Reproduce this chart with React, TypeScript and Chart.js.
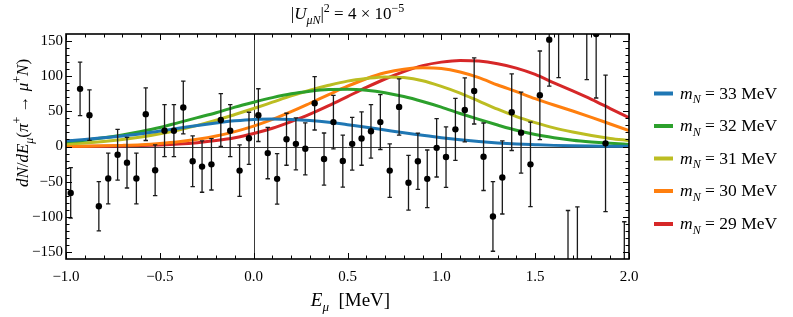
import React, { useEffect, useRef } from "react";
import { Chart, registerables } from "chart.js";

Chart.register(...registerables);

// ---------- data ----------
const binCenters = [
  -0.975, -0.925, -0.875, -0.825, -0.775, -0.725, -0.675, -0.625, -0.575, -0.525,
  -0.475, -0.425, -0.375, -0.325, -0.275, -0.225, -0.175, -0.125, -0.075, -0.025,
  0.025, 0.075, 0.125, 0.175, 0.225, 0.275, 0.325, 0.375, 0.425, 0.475,
  0.525, 0.575, 0.625, 0.675, 0.725, 0.775, 0.825, 0.875, 0.925, 0.975,
  1.025, 1.075, 1.125, 1.175, 1.225, 1.275, 1.325, 1.375, 1.425, 1.475,
  1.525, 1.575, 1.625, 1.675, 1.725, 1.775, 1.825, 1.875, 1.925, 1.975,
];
const counts: (number | null)[] = [
  -66, 82, 44.6, -85, -45.5, -11.7, -23, -45.5, 46, -33.8,
  22.5, 22.5, 55.4, -21, -28.6, -25.4, 37.6, 22.5, -34.3, 11.7,
  44.6, -9.4, -46, 10.3, 3.8, -3.3, 61.5, -17.8, 34.7, -20.7,
  3.8, 11.3, 21.6, 34.7, -34.3, 56.3, -51.6, -21, -46, -1.9,
  -15, 24.4, 52, 79, -14.6, -99.5, -44, 48.8, 19.7, -25.4,
  72.8, 152, 166, -168, -167, 170, 160, 4.5, null, -215,
];
const errors: (number | null)[] = [
  36, 38, 36, 35, 36, 36, 36, 36, 37.5, 36,
  37, 37, 37.5, 36, 36.5, 36.5, 37.5, 37, 36.5, 37,
  37.5, 36.5, 36, 37, 37, 37, 38, 37, 38, 37,
  37.5, 38, 38, 39, 38, 40, 39, 40, 41, 41.5,
  43, 44, 45.5, 47, 48, 49.5, 52, 54.5, 57.5, 60,
  63, 66, 68, 77, 81, 75, 91, 97, null, 108,
];

const curveX = [
  -1.0, -0.9, -0.8, -0.7, -0.6, -0.5, -0.4, -0.3, -0.2, -0.1, 0.0,
  0.1, 0.2, 0.3, 0.4, 0.5, 0.6, 0.7, 0.8, 0.9, 1.0,
  1.1, 1.2, 1.3, 1.4, 1.5, 1.6, 1.7, 1.8, 1.9, 2.0,
];
const m33 = [8, 10, 12.5, 15, 18, 22, 26, 30, 33.5, 36.5, 38.5, 39, 38.5, 37, 34.5, 31, 27.5, 23.5, 19.5, 16, 12.5, 9.5, 7, 5, 3.5, 2.5, 1.6, 1, 0.6, 0.4, 0.2];
const m32 = [6.5, 9, 12.4, 16.5, 21.4, 27, 34, 41, 48, 56, 63, 69.5, 75, 78.6, 81, 81.5, 80, 76.5, 71, 64, 56, 47, 38.5, 30.5, 23, 17, 12.5, 9, 6.5, 4.5, 3];
const m31 = [3.4, 5, 7.1, 9.9, 13.5, 18, 23.5, 30, 37.3, 45.5, 54, 63, 72, 80, 87, 93, 96.7, 99, 98, 93.5, 85.5, 76, 64.5, 53, 42.5, 34, 26.5, 20.5, 15.5, 11.5, 8.5];
const m30 = [0.3, 0.5, 0.9, 1.6, 2.6, 4.3, 6.7, 10.2, 14.9, 21.2, 29, 38.5, 49.5, 61.5, 73.8, 85.8, 96.4, 104.8, 110, 112, 111, 106, 98, 87.5, 78, 68, 59, 50.5, 41.5, 32, 22.5];
const m29 = [0.1, 0.2, 0.4, 0.8, 1.3, 2.2, 3.5, 5.5, 8.4, 12.4, 18.5, 26, 35.5, 46, 58, 71, 84, 96, 106.5, 115, 120, 122.4, 121.5, 117.6, 111.5, 102.5, 90.5, 79, 67, 54, 41];

const seriesLabels = ["33", "32", "31", "30", "29"];
const seriesValues = [m33, m32, m31, m30, m29];
const seriesColors = ["#1f77b4", "#2ca02c", "#bcbd22", "#ff7f0e", "#d62728"];

const xTicks = [-1.0, -0.5, 0.0, 0.5, 1.0, 1.5, 2.0];
const yTicks = [-150, -100, -50, 0, 50, 100, 150];
const X_MIN = -1, X_MAX = 2, Y_MIN = -160, Y_MAX = 160;

// ---------- text helpers ----------
const FAM = '"Liberation Serif", "Times New Roman", serif';
type Seg = { t: string; i?: boolean; s?: "sub" | "sup" };

function segFont(sg: Seg, size: number) {
  const sz = sg.s ? Math.round(size * 0.7) : size;
  return `${sg.i ? "italic " : ""}${sz}px ${FAM}`;
}
function richWidth(ctx: CanvasRenderingContext2D, segs: Seg[], size: number) {
  let w = 0;
  for (const sg of segs) {
    ctx.font = segFont(sg, size);
    w += ctx.measureText(sg.t).width;
  }
  return w;
}
function drawRich(ctx: CanvasRenderingContext2D, segs: Seg[], x: number, y: number, size: number, align: "left" | "center") {
  const total = richWidth(ctx, segs, size);
  let cx = align === "center" ? x - total / 2 : x;
  ctx.textAlign = "left";
  ctx.textBaseline = "alphabetic";
  ctx.fillStyle = "#000";
  for (const sg of segs) {
    ctx.font = segFont(sg, size);
    const dy = sg.s === "sub" ? size * 0.28 : sg.s === "sup" ? -size * 0.42 : 0;
    ctx.fillText(sg.t, cx, y + dy);
    cx += ctx.measureText(sg.t).width;
  }
}

const fmtMinus = (s: string) => s.replace("-", "\u2212");

// ---------- plugins ----------
const decorPlugin = {
  id: "decor",
  beforeDatasetsDraw(chart: any) {
    const { ctx, chartArea: a, scales } = chart;
    const x0 = scales.x.getPixelForValue(0);
    const y0 = scales.y.getPixelForValue(0);
    ctx.save();
    ctx.strokeStyle = "#3a3a3a";
    ctx.lineWidth = 1;
    ctx.beginPath();
    ctx.moveTo(Math.round(x0) + 0.5, a.top);
    ctx.lineTo(Math.round(x0) + 0.5, a.bottom);
    ctx.moveTo(a.left, Math.round(y0) + 0.5);
    ctx.lineTo(a.right, Math.round(y0) + 0.5);
    ctx.stroke();
    ctx.restore();
  },
  beforeDatasetDraw(chart: any, args: any) {
    if (args.index !== 0) return;
    const { ctx, chartArea: a, scales } = chart;
    ctx.save();
    ctx.beginPath();
    ctx.rect(a.left, a.top, a.right - a.left, a.bottom - a.top);
    ctx.clip();
    ctx.strokeStyle = "#1a1a1a";
    ctx.lineWidth = 1.3;
    binCenters.forEach((xc, i) => {
      const v = counts[i];
      const e = errors[i];
      if (v === null || e === null) return;
      const px = scales.x.getPixelForValue(xc);
      const yt = scales.y.getPixelForValue(v + e);
      const yb = scales.y.getPixelForValue(v - e);
      ctx.beginPath();
      ctx.moveTo(px, yt);
      ctx.lineTo(px, yb);
      ctx.moveTo(px - 2.2, yt);
      ctx.lineTo(px + 2.2, yt);
      ctx.moveTo(px - 2.2, yb);
      ctx.lineTo(px + 2.2, yb);
      ctx.stroke();
    });
    ctx.restore();
  },
  afterDraw(chart: any) {
    const { ctx, chartArea: a, scales } = chart;
    ctx.save();
    // frame ticks
    ctx.strokeStyle = "#000";
    ctx.lineWidth = 1;
    ctx.beginPath();
    for (let k = 0; k <= 30; k++) {
      const v = X_MIN + k * 0.1;
      const px = Math.round(scales.x.getPixelForValue(v)) + 0.5;
      const len = k % 5 === 0 ? 6 : 3.5;
      ctx.moveTo(px, a.bottom);
      ctx.lineTo(px, a.bottom - len);
      ctx.moveTo(px, a.top);
      ctx.lineTo(px, a.top + len);
    }
    for (let k = -15; k <= 15; k++) {
      const v = k * 10;
      const py = Math.round(scales.y.getPixelForValue(v)) + 0.5;
      const len = k % 5 === 0 ? 6 : 3.5;
      ctx.moveTo(a.left, py);
      ctx.lineTo(a.left + len, py);
      ctx.moveTo(a.right, py);
      ctx.lineTo(a.right - len, py);
    }
    ctx.stroke();
    // frame
    ctx.lineWidth = 1.6;
    ctx.strokeRect(a.left, a.top, a.right - a.left, a.bottom - a.top);

    // title
    const cx = (a.left + a.right) / 2;
    drawRich(ctx, [
      { t: "|" }, { t: "U", i: true }, { t: "\u03bcN", i: true, s: "sub" }, { t: "|" },
      { t: "2", s: "sup" }, { t: " = 4 \u00d7 10" }, { t: "\u22125", s: "sup" },
    ], cx, 19, 17, "center");

    // x-axis title
    drawRich(ctx, [
      { t: "E", i: true }, { t: "\u03bc", i: true, s: "sub" }, { t: "  [MeV]" },
    ], cx + 3, 306, 19, "center");

    // y-axis title
    ctx.save();
    ctx.translate(28, 123);
    ctx.rotate(-Math.PI / 2);
    drawRich(ctx, [
      { t: "dN", i: true }, { t: "/" }, { t: "dE", i: true }, { t: "\u03bc", i: true, s: "sub" },
      { t: "(" }, { t: "\u03c0", i: true }, { t: "+", s: "sup" }, { t: " \u2192 " },
      { t: "\u03bc", i: true }, { t: "+", s: "sup" }, { t: "N", i: true }, { t: ")" },
    ], 0, 0, 17, "center");
    ctx.restore();

    // legend
    const rowY = [93.5, 126, 158.5, 191, 224];
    seriesLabels.forEach((lab, i) => {
      const y = rowY[i];
      ctx.fillStyle = seriesColors[i];
      ctx.fillRect(654, y - 2, 19, 4);
      drawRich(ctx, [
        { t: "m", i: true }, { t: "N", i: true, s: "sub" }, { t: ` = ${lab} MeV` },
      ], 680, y + 5, 17.5, "left");
    });
    ctx.restore();
  },
};

export default function App() {
  const ref = useRef<HTMLCanvasElement | null>(null);
  useEffect(() => {
    if (!ref.current) return;
    const pts: { x: number; y: number }[] = [];
    binCenters.forEach((x, i) => {
      const v = counts[i];
      if (v !== null) pts.push({ x, y: v });
    });
    const curveSets = seriesValues.map((vals, i) => ({
      type: "line" as const,
      label: `m_N = ${seriesLabels[i]} MeV`,
      data: curveX.map((x, j) => ({ x, y: vals[j] })),
      borderColor: seriesColors[i],
      backgroundColor: seriesColors[i],
      borderWidth: 3,
      pointRadius: 0,
      cubicInterpolationMode: "monotone" as const,
      fill: false,
      clip: 0,
    }));
    const tickFont = { family: FAM, size: 15 };
    const chart = new Chart(ref.current, {
      type: "scatter",
      data: {
        datasets: [
          {
            type: "scatter",
            label: "data",
            data: pts,
            pointRadius: 3.2,
            pointBackgroundColor: "#000",
            pointBorderColor: "#000",
            pointBorderWidth: 0,
            clip: 0,
          } as any,
          ...curveSets,
        ],
      },
      options: {
        animation: false,
        responsive: false,
        maintainAspectRatio: false,
        layout: { padding: { left: 0, right: 164, top: 34, bottom: 0 } },
        plugins: {
          legend: { display: false },
          tooltip: { enabled: false },
          title: { display: false },
        },
        scales: {
          x: {
            type: "linear",
            min: X_MIN,
            max: X_MAX,
            afterBuildTicks: (s: any) => { s.ticks = xTicks.map((v) => ({ value: v })); },
            afterFit: (s: any) => { s.height = 58; },
            grid: { display: false, drawTicks: false },
            border: { display: false },
            ticks: {
              padding: 9,
              color: "#000",
              font: tickFont,
              maxRotation: 0,
              autoSkip: false,
              callback: (v: any) => fmtMinus(Number(v).toFixed(1)),
            },
          },
          y: {
            type: "linear",
            min: Y_MIN,
            max: Y_MAX,
            afterBuildTicks: (s: any) => { s.ticks = yTicks.map((v) => ({ value: v })); },
            afterFit: (s: any) => { s.width = 66; },
            grid: { display: false, drawTicks: false },
            border: { display: false },
            ticks: {
              padding: 3,
              color: "#000",
              font: tickFont,
              autoSkip: false,
              callback: (v: any) => fmtMinus(String(v)),
            },
          },
        },
      } as any,
      plugins: [decorPlugin as any],
    });
    return () => chart.destroy();
  }, []);
  return (
    <div style={{ position: "fixed", left: 0, top: 0, width: 793, height: 317, background: "#fff" }}>
      <canvas ref={ref} width={793} height={317} style={{ display: "block", width: 793, height: 317 }} />
    </div>
  );
}
